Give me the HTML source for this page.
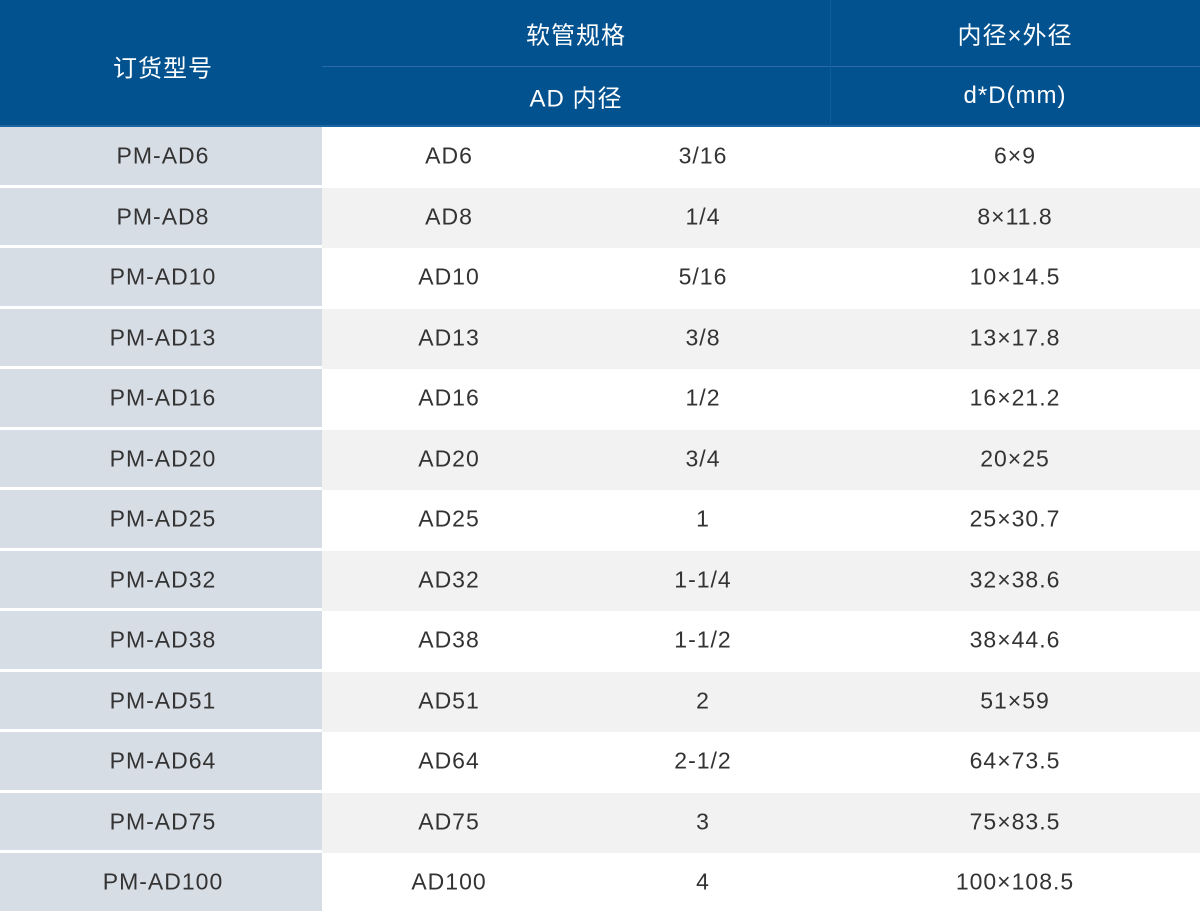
<!DOCTYPE html>
<html><head><meta charset="utf-8"><style>
body{margin:0;width:1200px;height:914px;position:relative;overflow:hidden;background:#fff;font-family:"Liberation Sans","Noto Sans CJK SC",sans-serif;}
.h{position:absolute;left:0;top:0;width:1200px;height:127px;background:#02528f;}
.t{position:absolute;transform:translate(-50%,-50%);font-size:23px;letter-spacing:1px;white-space:nowrap;}
.w{color:#fff;font-size:24px;}
.d{color:#333;}
.r{position:absolute;left:322px;width:878px;height:60.5px;}
.c{position:absolute;left:0;width:322px;height:57.5px;background:#d7dde5;}
</style></head><body>
<div class="h"></div>
<div style="position:absolute;left:0;top:125px;width:1200px;height:2px;background:#1a66a3"></div>
<div style="position:absolute;left:322px;top:66px;width:878px;height:1px;background:#2a6ba3"></div>
<div style="position:absolute;left:830px;top:0;width:1px;height:126px;background:#0f5c98"></div>
<div class="t w" style="left:163px;top:66px">订货型号</div>
<div class="t w" style="left:576px;top:33px">软管规格</div>
<div class="t w" style="left:1015px;top:33px">内径×外径</div>
<div class="t w" style="left:576px;top:96px">AD 内径</div>
<div class="t w" style="left:1015px;top:96px">d*D(mm)</div>
<div class="r" style="top:127px;background:#fff"></div><div class="c" style="top:127px"></div>
<div class="t d" style="left:163px;top:156px">PM-AD6</div><div class="t d" style="left:449px;top:156px">AD6</div><div class="t d" style="left:703px;top:156px">3/16</div><div class="t d" style="left:1015px;top:156px">6×9</div>
<div class="r" style="top:187.5px;background:#f2f2f2"></div><div class="c" style="top:187.5px"></div>
<div class="t d" style="left:163px;top:216.5px">PM-AD8</div><div class="t d" style="left:449px;top:216.5px">AD8</div><div class="t d" style="left:703px;top:216.5px">1/4</div><div class="t d" style="left:1015px;top:216.5px">8×11.8</div>
<div class="r" style="top:248px;background:#fff"></div><div class="c" style="top:248px"></div>
<div class="t d" style="left:163px;top:277px">PM-AD10</div><div class="t d" style="left:449px;top:277px">AD10</div><div class="t d" style="left:703px;top:277px">5/16</div><div class="t d" style="left:1015px;top:277px">10×14.5</div>
<div class="r" style="top:308.5px;background:#f2f2f2"></div><div class="c" style="top:308.5px"></div>
<div class="t d" style="left:163px;top:337.5px">PM-AD13</div><div class="t d" style="left:449px;top:337.5px">AD13</div><div class="t d" style="left:703px;top:337.5px">3/8</div><div class="t d" style="left:1015px;top:337.5px">13×17.8</div>
<div class="r" style="top:369px;background:#fff"></div><div class="c" style="top:369px"></div>
<div class="t d" style="left:163px;top:398px">PM-AD16</div><div class="t d" style="left:449px;top:398px">AD16</div><div class="t d" style="left:703px;top:398px">1/2</div><div class="t d" style="left:1015px;top:398px">16×21.2</div>
<div class="r" style="top:429.5px;background:#f2f2f2"></div><div class="c" style="top:429.5px"></div>
<div class="t d" style="left:163px;top:458.5px">PM-AD20</div><div class="t d" style="left:449px;top:458.5px">AD20</div><div class="t d" style="left:703px;top:458.5px">3/4</div><div class="t d" style="left:1015px;top:458.5px">20×25</div>
<div class="r" style="top:490px;background:#fff"></div><div class="c" style="top:490px"></div>
<div class="t d" style="left:163px;top:519px">PM-AD25</div><div class="t d" style="left:449px;top:519px">AD25</div><div class="t d" style="left:703px;top:519px">1</div><div class="t d" style="left:1015px;top:519px">25×30.7</div>
<div class="r" style="top:550.5px;background:#f2f2f2"></div><div class="c" style="top:550.5px"></div>
<div class="t d" style="left:163px;top:579.5px">PM-AD32</div><div class="t d" style="left:449px;top:579.5px">AD32</div><div class="t d" style="left:703px;top:579.5px">1-1/4</div><div class="t d" style="left:1015px;top:579.5px">32×38.6</div>
<div class="r" style="top:611px;background:#fff"></div><div class="c" style="top:611px"></div>
<div class="t d" style="left:163px;top:640px">PM-AD38</div><div class="t d" style="left:449px;top:640px">AD38</div><div class="t d" style="left:703px;top:640px">1-1/2</div><div class="t d" style="left:1015px;top:640px">38×44.6</div>
<div class="r" style="top:671.5px;background:#f2f2f2"></div><div class="c" style="top:671.5px"></div>
<div class="t d" style="left:163px;top:700.5px">PM-AD51</div><div class="t d" style="left:449px;top:700.5px">AD51</div><div class="t d" style="left:703px;top:700.5px">2</div><div class="t d" style="left:1015px;top:700.5px">51×59</div>
<div class="r" style="top:732px;background:#fff"></div><div class="c" style="top:732px"></div>
<div class="t d" style="left:163px;top:761px">PM-AD64</div><div class="t d" style="left:449px;top:761px">AD64</div><div class="t d" style="left:703px;top:761px">2-1/2</div><div class="t d" style="left:1015px;top:761px">64×73.5</div>
<div class="r" style="top:792.5px;background:#f2f2f2"></div><div class="c" style="top:792.5px"></div>
<div class="t d" style="left:163px;top:821.5px">PM-AD75</div><div class="t d" style="left:449px;top:821.5px">AD75</div><div class="t d" style="left:703px;top:821.5px">3</div><div class="t d" style="left:1015px;top:821.5px">75×83.5</div>
<div class="r" style="top:853px;background:#fff"></div><div class="c" style="top:853px"></div>
<div class="t d" style="left:163px;top:882px">PM-AD100</div><div class="t d" style="left:449px;top:882px">AD100</div><div class="t d" style="left:703px;top:882px">4</div><div class="t d" style="left:1015px;top:882px">100×108.5</div>
</body></html>
